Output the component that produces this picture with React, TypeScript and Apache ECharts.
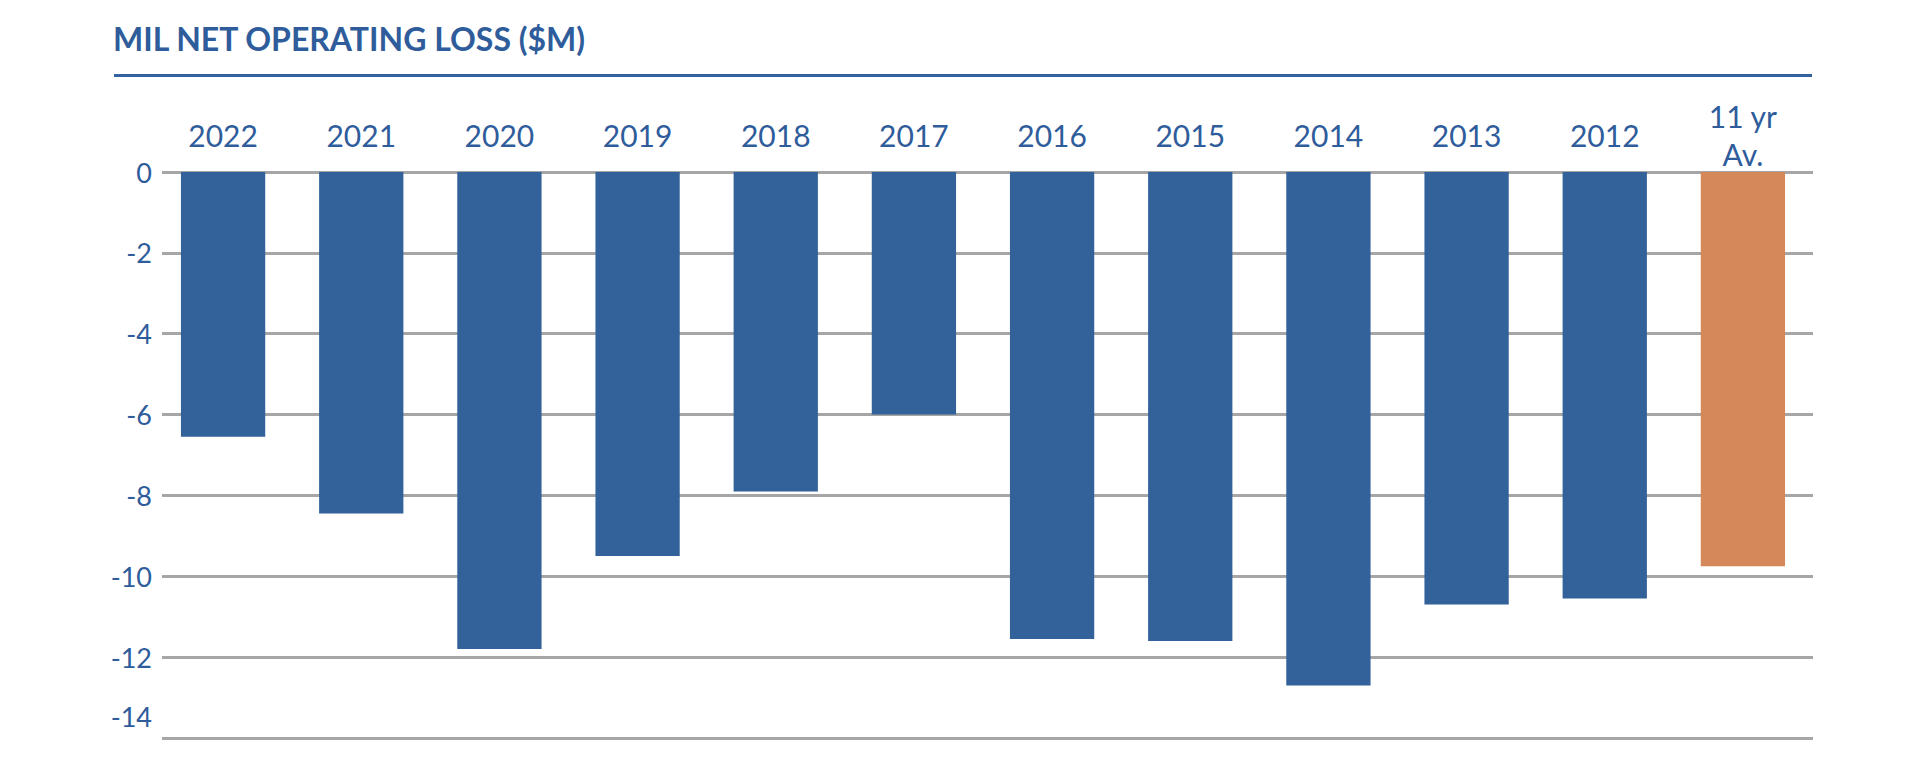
import React, { useEffect, useRef } from "react";
import * as echarts from "echarts";

const titleText = "MIL NET OPERATING LOSS ($M)";
const categories = ["2022", "2021", "2020", "2019", "2018", "2017", "2016", "2015", "2014", "2013", "2012", "11 yr\nAv."];
const lossValues = [-6.55, -8.45, -11.8, -9.5, -7.9, -6.0, -11.55, -11.6, -12.7, -10.7, -10.55, -9.75];
const highlightIndex = [11];
const yMin = -14;
const yMax = 0;
const yStep = 2;

const BLUE = "#336199";
const ORANGE = "#d5895a";
const TEXT = "#2f5c9b";
const GRID = "#a6a6a6";
const FONT = "Lato, 'Open Sans', sans-serif";

export default function App() {
  const ref = useRef<HTMLDivElement>(null);
  useEffect(() => {
    if (!ref.current) return;
    const chart = echarts.init(ref.current, null, { renderer: "svg" });
    chart.setOption({
      animation: false,
      backgroundColor: "#ffffff",
      textStyle: { fontFamily: FONT },
      graphic: [
        {
          type: "text",
          left: 113,
          top: 22,
          style: {
            text: titleText,
            fill: TEXT,
            font: `bold 32px ${FONT}`,
          },
        },
        {
          type: "line",
          shape: { x1: 114, y1: 75.5, x2: 1812, y2: 75.5 },
          style: { stroke: "#3462a0", lineWidth: 3 },
        },
      ],
      grid: [
        { left: 154, right: 108, top: 172, bottom: 44 },
        { left: 162, right: 107, top: 172, bottom: 44 },
      ],
      xAxis: [
        {
          type: "category",
          gridIndex: 0,
          position: "top",
          data: categories,
          axisLine: { show: false },
          axisTick: { show: false },
          axisLabel: {
            interval: 0,
            margin: 37,
            verticalAlign: "middle",
            color: TEXT,
            fontSize: 30,
            lineHeight: 38,
            fontFamily: FONT,
          },
        },
        {
          type: "category",
          gridIndex: 1,
          data: categories,
          show: false,
        },
      ],
      yAxis: [
        {
          type: "value",
          gridIndex: 0,
          min: yMin,
          max: yMax,
          interval: yStep,
          axisLabel: { show: false },
          axisLine: { show: false },
          axisTick: { show: false },
          splitLine: { show: false },
        },
        {
          type: "value",
          gridIndex: 1,
          min: yMin,
          max: yMax,
          interval: yStep,
          axisLine: { show: false },
          axisTick: { show: false },
          splitLine: { show: true, lineStyle: { color: GRID, width: 3 } },
          axisLabel: {
            margin: 10,
            color: TEXT,
            fontSize: 27,
            fontFamily: FONT,
            formatter: (v: number) => (v === yMin ? `{up|${v}}` : `${v}`),
            rich: {
              up: {
                color: TEXT,
                fontSize: 27,
                fontFamily: FONT,
                padding: [0, 0, 44, 0],
              },
            },
          },
        },
      ],
      series: [
        {
          type: "bar",
          xAxisIndex: 0,
          yAxisIndex: 0,
          barCategoryGap: "39%",
          z: 3,
          data: lossValues.map((v, i) => ({
            value: v,
            itemStyle: { color: highlightIndex.includes(i) ? ORANGE : BLUE },
          })),
        },
      ],
    });
    return () => chart.dispose();
  }, []);
  return (
    <div
      ref={ref}
      style={{ position: "fixed", left: 0, top: 0, width: 1920, height: 782, background: "#fff" }}
    />
  );
}
